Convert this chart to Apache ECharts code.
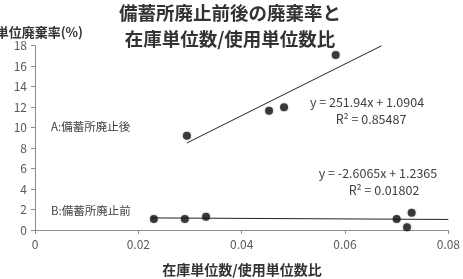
<!DOCTYPE html>
<html><head><meta charset="utf-8">
<script src="https://cdn.jsdelivr.net/npm/echarts@6/dist/echarts.min.js"></script>
<style>html,body{margin:0;padding:0;background:#fff}#c{width:463px;height:279px}</style>
</head><body><div id="c"></div>
<script>
var titleLines = ['備蓄所廃止前後の廃棄率と', '在庫単位数/使用単位数比'];
var yAxisName = '単位廃棄率(%)';
var xAxisName = '在庫単位数/使用単位数比';
var xTicks = [0, 0.02, 0.04, 0.06, 0.08];
var yTicks = [0, 2, 4, 6, 8, 10, 12, 14, 16, 18];
var afterPts = [[0.0294, 9.2], [0.0453, 11.65], [0.0482, 11.98], [0.0582, 17.1]];
var beforePts = [[0.0230, 1.07], [0.0290, 1.07], [0.0331, 1.3], [0.0700, 1.07], [0.0729, 1.69], [0.0720, 0.27]];
var trendA = [[0.0294, 8.5], [0.0671, 18.0]];
var trendB = [[0.0225, 1.18], [0.08, 1.03]];
var labelA = 'A:備蓄所廃止後';
var labelB = 'B:備蓄所廃止前';
var eqA = ['y = 251.94x + 1.0904', 'R² = 0.85487'];
var eqB = ['y = -2.6065x + 1.2365', 'R² = 0.01802'];

var FONT = '"Noto Sans CJK JP", "Noto Sans", sans-serif';
var chart = echarts.init(document.getElementById('c'));
function txt(x, y, s, o) {
  o = o || {};
  return {type: 'text', x: x, y: y, style: {text: s, font: (o.w || 'normal') + ' ' + (o.size || 11) + 'px ' + FONT,
    fill: o.color || '#404040', textAlign: o.align || 'center', textVerticalAlign: 'middle'}};
}
chart.setOption({
  animation: false,
  grid: {left: 35, right: 13, top: 45.7, bottom: 49},
  xAxis: {type: 'value', min: xTicks[0], max: xTicks[xTicks.length - 1], interval: 0.02,
    axisLine: {show: true, lineStyle: {color: '#8c8c8c'}},
    axisTick: {show: true, length: 4, lineStyle: {color: '#8c8c8c'}},
    axisLabel: {color: '#595959', fontSize: 12, fontFamily: FONT, margin: 8},
    splitLine: {show: false}},
  yAxis: {type: 'value', min: yTicks[0], max: yTicks[yTicks.length - 1], interval: 2,
    axisLine: {show: true, lineStyle: {color: '#8c8c8c'}},
    axisTick: {show: true, length: 4, lineStyle: {color: '#8c8c8c'}},
    axisLabel: {color: '#595959', fontSize: 12, fontFamily: FONT, margin: 8},
    splitLine: {show: false}},
  series: [
    {type: 'line', data: trendA, symbol: 'none', lineStyle: {color: '#222', width: 1}, z: 2},
    {type: 'line', data: trendB, symbol: 'none', lineStyle: {color: '#222', width: 1}, z: 2},
    {type: 'scatter', data: afterPts, symbolSize: 8, itemStyle: {color: '#1a1a1a', shadowBlur: 2, shadowColor: 'rgba(0,0,0,0.4)'}, z: 3},
    {type: 'scatter', data: beforePts, symbolSize: 8, itemStyle: {color: '#1a1a1a', shadowBlur: 2, shadowColor: 'rgba(0,0,0,0.4)'}, z: 3}
  ],
  graphic: [
    txt(230, 13, titleLines[0], {w: 'bold', size: 18.5, color: '#333'}),
    txt(230, 39, titleLines[1], {w: 'bold', size: 18.5, color: '#333'}),
    txt(83, 32, yAxisName, {w: 'bold', size: 13, color: '#333', align: 'right'}),
    txt(242, 270, xAxisName, {w: 'bold', size: 14, color: '#333'}),
    txt(51, 127, labelA, {size: 11.5, align: 'left'}),
    txt(51, 211, labelB, {size: 11.5, align: 'left'}),
    txt(367, 102, eqA[0], {size: 12.5}),
    txt(371, 119, eqA[1], {size: 12.5}),
    txt(378, 173, eqB[0], {size: 12.5}),
    txt(384, 190.5, eqB[1], {size: 12.5})
  ]
});
</script></body></html>
